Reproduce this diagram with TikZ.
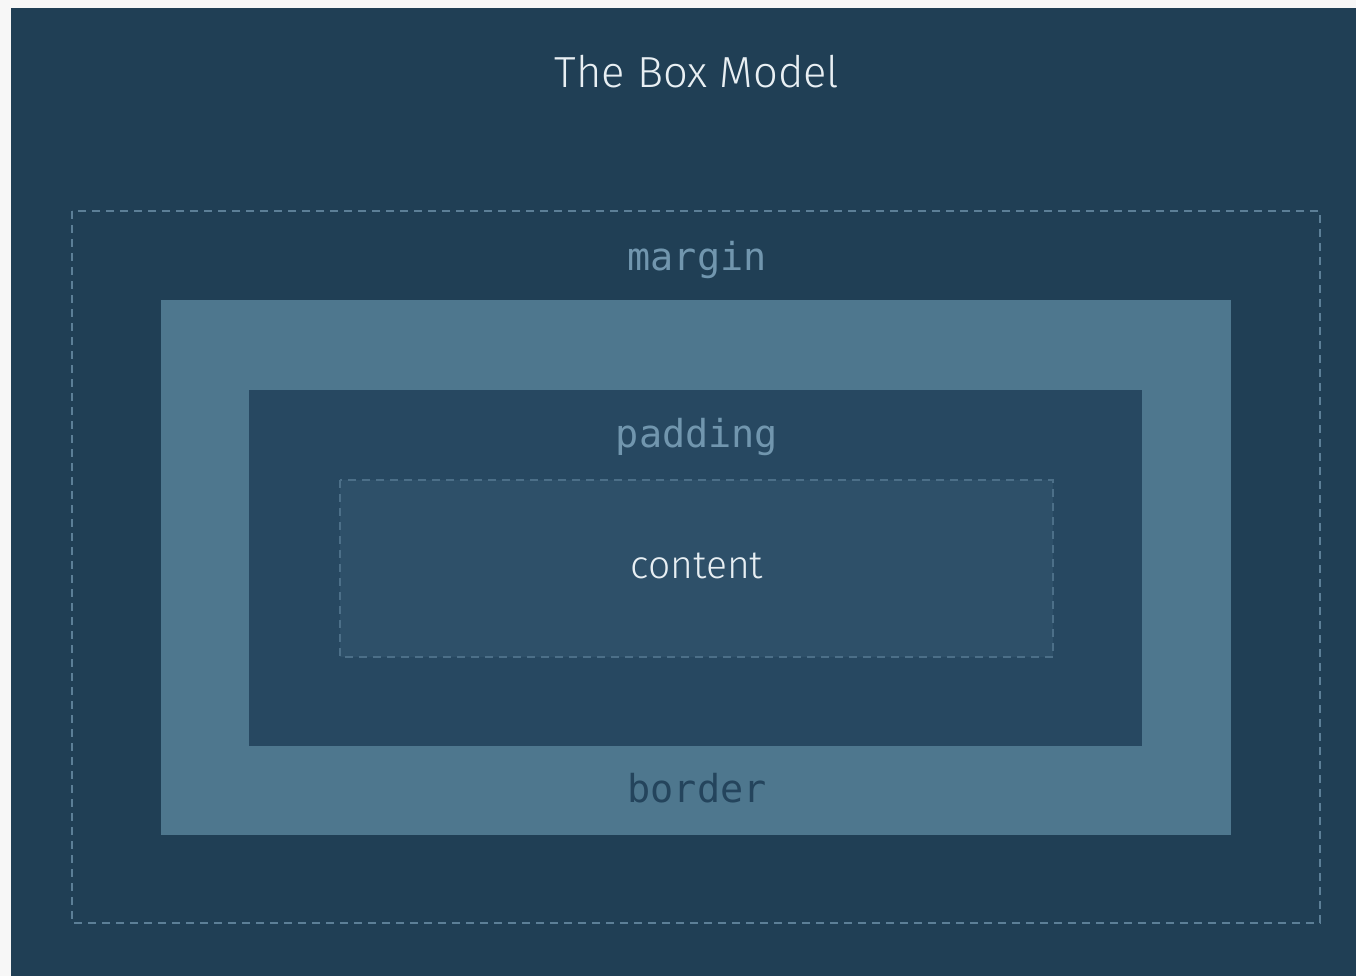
\documentclass[tikz,border=0pt]{standalone}
\usepackage{fontspec}
\setmainfont{Fira Sans Light}
\newfontfamily\monofont{DejaVu Sans Mono}
\definecolor{bgdark}{HTML}{203F55}
\definecolor{outside}{HTML}{F7F7F7}
\definecolor{borderbox}{HTML}{4E778E}
\definecolor{paddingbox}{HTML}{274861}
\definecolor{contentbox}{HTML}{2E5069}
\definecolor{margindash}{HTML}{5C7F97}
\definecolor{contentdash}{HTML}{4C6F88}
\definecolor{lbltext}{HTML}{7196AE}
\definecolor{bordertext}{HTML}{24445C}
\definecolor{whitetext}{HTML}{E8EFF3}
\tikzset{
  lbl/.style={font=\monofont\fontsize{38.5}{42}\selectfont, inner sep=0pt, anchor=base},
  sanslbl/.style={inner sep=0pt, anchor=base, text=whitetext},
  dashbox/.style={line width=1.4pt, dash pattern=on 8pt off 6pt},
}
\begin{document}
\begin{tikzpicture}[x=1pt,y=-1pt]
\useasboundingbox (0,0) rectangle (1356,976);
\fill[outside] (0,0) rectangle (1356,976);
\fill[bgdark] (11,8) rectangle (1356,976);
% margin
\draw[dashbox, margindash] (72,211) rectangle (1320,923);
% border box
\fill[borderbox] (161,300) rectangle (1231,835);
% padding box
\fill[paddingbox] (249,390) rectangle (1142,746);
% content box
\fill[contentbox] (340,480) rectangle (1053,657);
\draw[dashbox, contentdash] (340,480) rectangle (1053,657);
% texts
\node[sanslbl, font=\fontsize{43.5}{48}\selectfont] (title) at (697,88) {The Box Model};
\node[lbl, text=lbltext] (margin) at (697,270) {margin};
\node[lbl, text=lbltext] (padding) at (697,447) {padding};
\node[lbl, text=bordertext] (border) at (697,802) {border};
\node[sanslbl, font=\fontsize{39}{43}\selectfont] (content) at (697,578) {content};
\end{tikzpicture}
\end{document}
